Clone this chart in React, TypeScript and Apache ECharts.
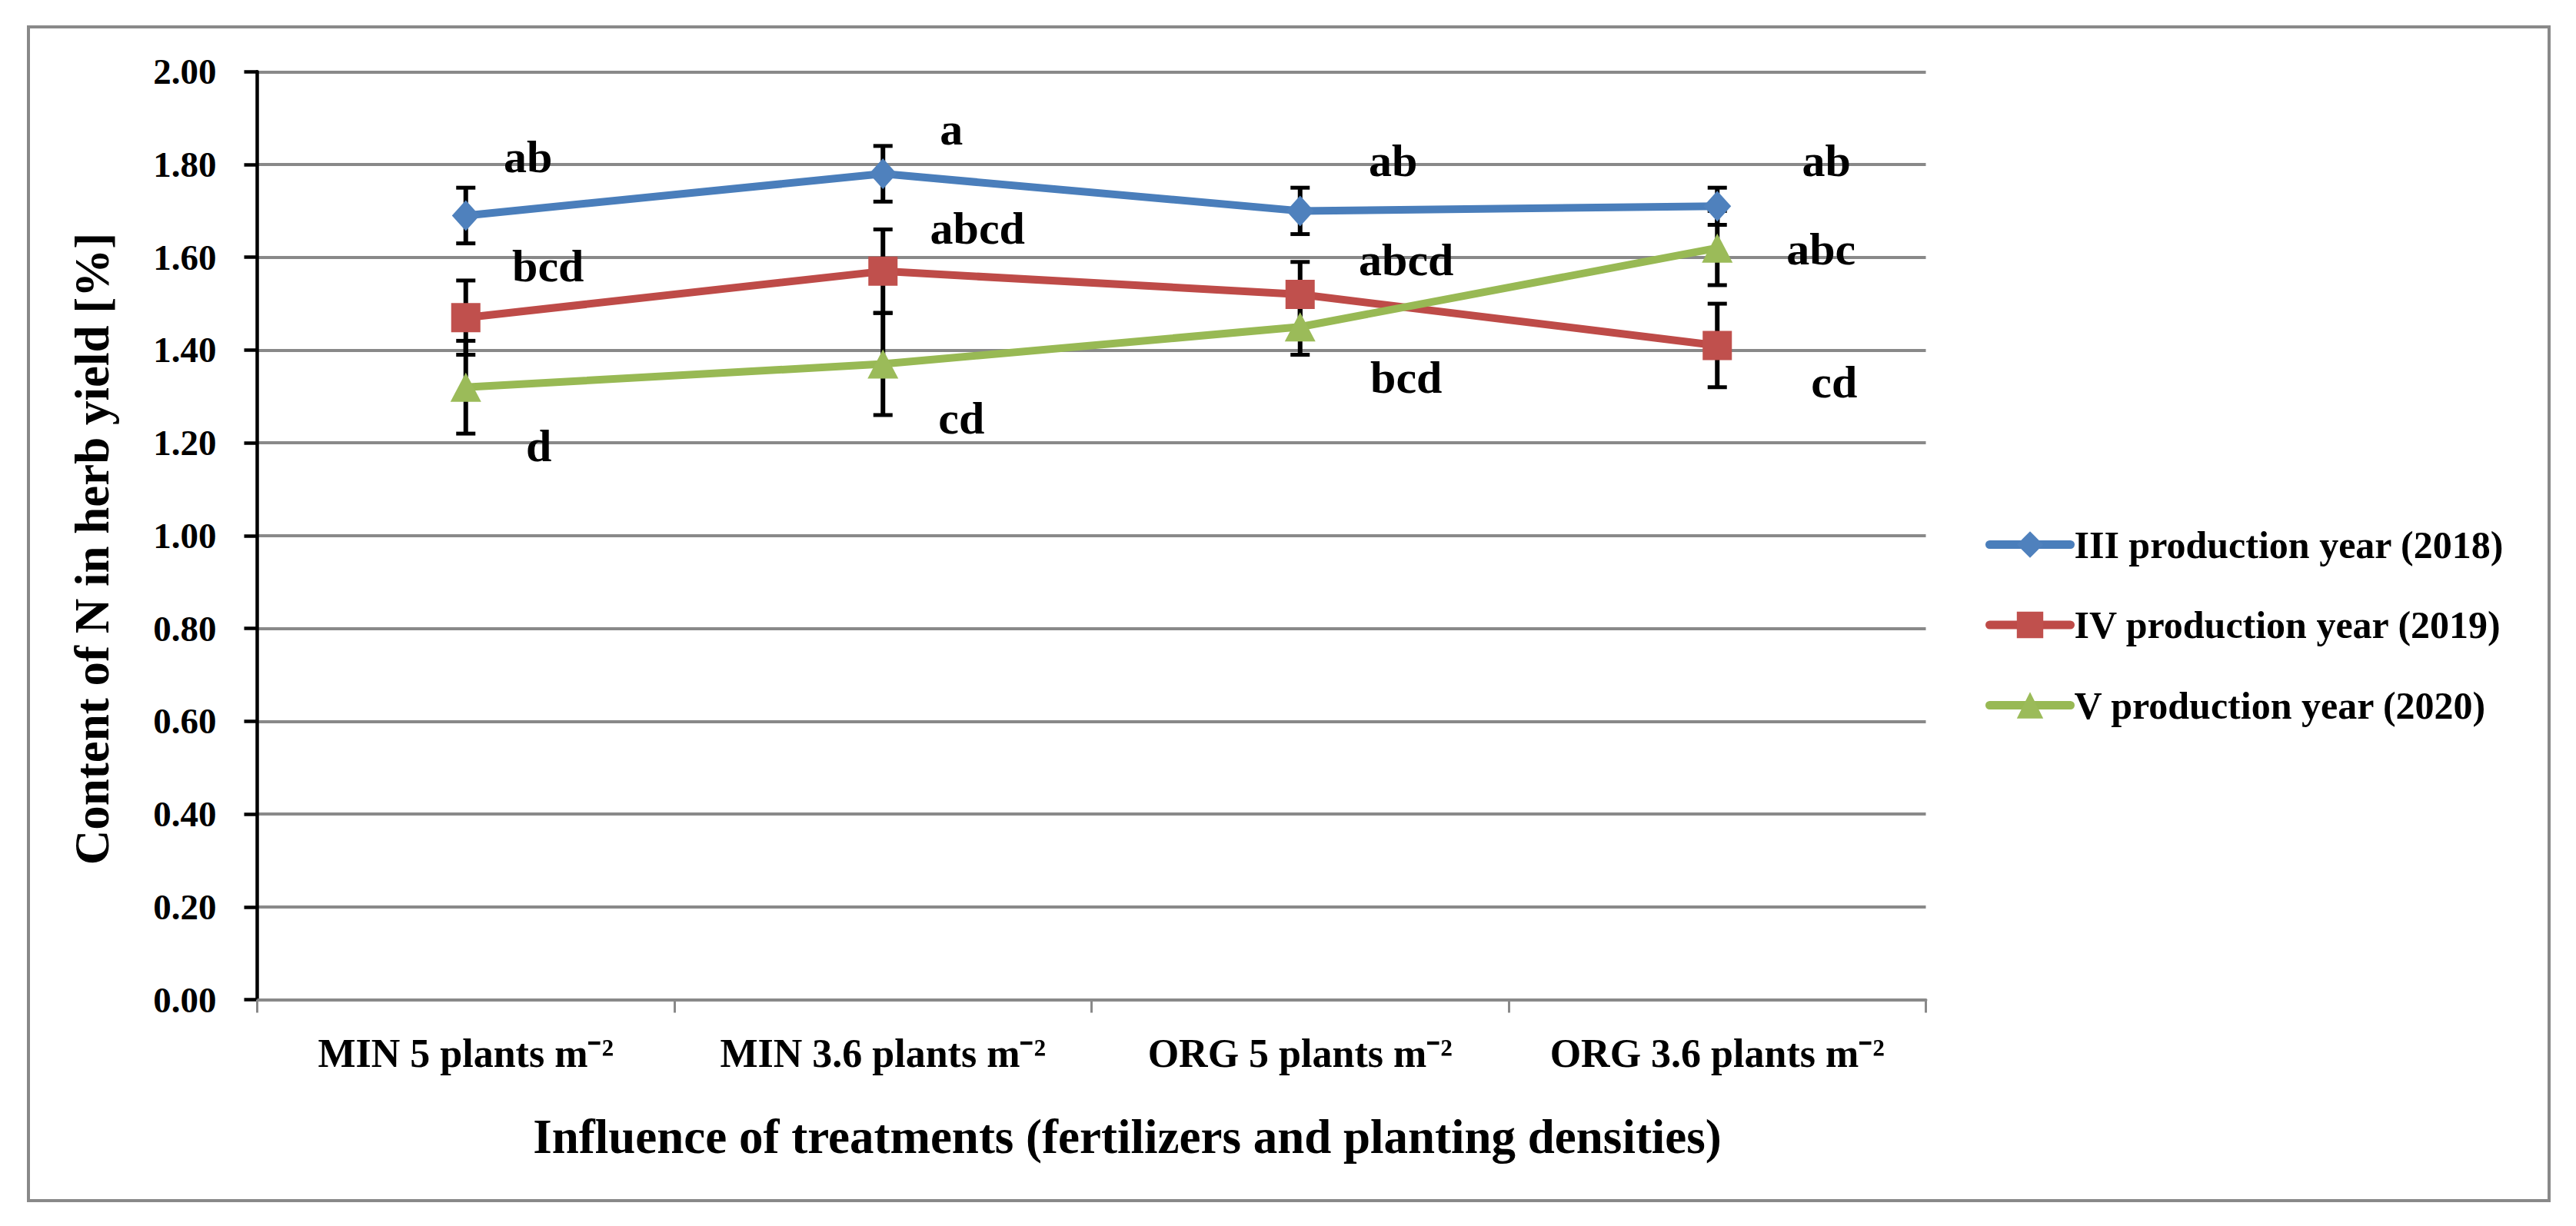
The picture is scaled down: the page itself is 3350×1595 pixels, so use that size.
import React, { useEffect, useRef } from "react";
import * as echarts from "echarts";

const categories = ["MIN 5 plants m⁻²", "MIN 3.6 plants m⁻²", "ORG 5 plants m⁻²", "ORG 3.6 plants m⁻²"];
const seriesNames = ["III production year (2018)", "IV production year (2019)", "V production year (2020)"];

const y2018 = [1.69, 1.78, 1.7, 1.71];
const err2018 = [0.06, 0.06, 0.05, 0.04];
const letters2018 = ["ab", "a", "ab", "ab"];

const y2019 = [1.47, 1.57, 1.52, 1.41];
const err2019 = [0.08, 0.09, 0.07, 0.09];
const letters2019 = ["bcd", "abcd", "abcd", "cd"];

const y2020 = [1.32, 1.37, 1.45, 1.62];
const err2020 = [0.1, 0.11, 0.06, 0.08];
const letters2020 = ["d", "cd", "bcd", "abc"];

const yMin = 0;
const yMax = 2;
const yStep = 0.2;

const yTitle = "Content of N in herb yield [%]";
const xTitle = "Influence of treatments (fertilizers and planting densities)";

// label offsets (pixels, relative to the point)
const offsets2018 = [[81, -76], [89, -58], [121, -65], [142, -59]];
const offsets2019 = [[107, -67], [123, -56], [138, -45], [152, 48]];
const offsets2020 = [[95, 76], [102, 70], [138, 66], [135, 1]];

const FONT = '"Liberation Serif", "Times New Roman", serif';
const GRAY = "#898989";

export default function App() {
  const ref = useRef<HTMLDivElement>(null);

  useEffect(() => {
    if (!ref.current) return;
    const chart = echarts.init(ref.current, null, { renderer: "svg" });

    const lineSeries = (name: string, vals: number[], letters: string[], offs: number[][], color: string, lineColor: string, symbol: string, size: number[]) => ({
      name,
      type: "line",
      z: 3,
      data: vals.map((v, i) => ({
        value: v,
        label: { formatter: letters[i], offset: offs[i] },
      })),
      symbol,
      symbolSize: size,
      lineStyle: { color: lineColor, width: 10 },
      itemStyle: { color },
      label: {
        show: true,
        position: "inside",
        fontFamily: FONT,
        fontWeight: "bold",
        fontSize: 60,
        color: "#000",
      },
    });

    const errData: number[][] = [];
    [[y2018, err2018], [y2019, err2019], [y2020, err2020]].forEach(([vals, errs]) => {
      vals.forEach((v, i) => errData.push([i, v - errs[i], v + errs[i]]));
    });

    chart.setOption({
      animation: false,
      backgroundColor: "#fff",
      grid: { left: 334.5, right: 845.5, top: 93.3, bottom: 294.5, containLabel: false },
      legend: {
        data: seriesNames,
        orient: "vertical",
        left: 2577,
        top: 678.5,
        itemWidth: 105,
        itemHeight: 43,
        itemGap: 54.5,
        lineStyle: { width: 11, cap: "round" },
        textStyle: { fontFamily: FONT, fontWeight: "bold", fontSize: 50, color: "#000" },
      },
      xAxis: {
        type: "category",
        data: categories,
        boundaryGap: true,
        axisLine: { show: true, lineStyle: { color: GRAY, width: 4 } },
        axisTick: { show: true, interval: 0, length: 17, lineStyle: { color: GRAY, width: 3 } },
        axisLabel: {
          interval: 0,
          margin: 44,
          fontFamily: FONT,
          fontWeight: "bold",
          fontSize: 52,
          color: "#000",
        },
        splitLine: { show: false },
      },
      yAxis: {
        type: "value",
        min: yMin,
        max: yMax,
        interval: yStep,
        axisLine: { show: true, lineStyle: { color: "#000", width: 4.5 } },
        axisTick: { show: true, length: 17, lineStyle: { color: "#000", width: 4.5 } },
        axisLabel: {
          margin: 53,
          formatter: (v: number) => v.toFixed(2),
          fontFamily: FONT,
          fontWeight: "bold",
          fontSize: 47,
          color: "#000",
        },
        splitLine: { show: true, lineStyle: { color: GRAY, width: 4 } },
      },
      graphic: [
        {
          type: "rect",
          shape: { x: 37, y: 35, width: 3278, height: 1527 },
          style: { fill: "none", stroke: GRAY, lineWidth: 4 },
          z: -1,
        },
        {
          type: "text",
          x: 1466,
          y: 1479,
          style: {
            text: xTitle,
            textAlign: "center",
            textVerticalAlign: "middle",
            fontFamily: FONT,
            fontWeight: "bold",
            fontSize: 63,
            fill: "#000",
          },
        },
        {
          type: "text",
          x: 120,
          y: 714,
          rotation: Math.PI / 2,
          style: {
            text: yTitle,
            textAlign: "center",
            textVerticalAlign: "middle",
            fontFamily: FONT,
            fontWeight: "bold",
            fontSize: 63,
            fill: "#000",
          },
        },
      ],
      series: [
        {
          type: "custom",
          name: "errors",
          z: 1,
          data: errData,
          encode: { x: 0, y: [1, 2] },
          renderItem: (params: any, api: any) => {
            const x = api.value(0);
            const lo = api.coord([x, api.value(1)]);
            const hi = api.coord([x, api.value(2)]);
            const hw = 12.5;
            return {
              type: "group",
              children: [
                { type: "line", shape: { x1: lo[0], y1: lo[1], x2: hi[0], y2: hi[1] }, style: { stroke: "#000", lineWidth: 6 } },
                { type: "line", shape: { x1: lo[0] - hw, y1: lo[1], x2: lo[0] + hw, y2: lo[1] }, style: { stroke: "#000", lineWidth: 5 } },
                { type: "line", shape: { x1: hi[0] - hw, y1: hi[1], x2: hi[0] + hw, y2: hi[1] }, style: { stroke: "#000", lineWidth: 5 } },
              ],
            };
          },
        },
        lineSeries(seriesNames[0], y2018, letters2018, offsets2018, "#4F81BD", "#4A7EBB", "diamond", [36, 40]),
        lineSeries(seriesNames[1], y2019, letters2019, offsets2019, "#C0504D", "#BE4B48", "rect", [38, 38]),
        lineSeries(seriesNames[2], y2020, letters2020, offsets2020, "#9BBB59", "#98B954", "triangle", [40, 38]),
      ],
    });

    return () => chart.dispose();
  }, []);

  return (
    <div
      ref={ref}
      style={{ position: "absolute", left: 0, top: 0, width: 3350, height: 1595, background: "#fff" }}
    />
  );
}
